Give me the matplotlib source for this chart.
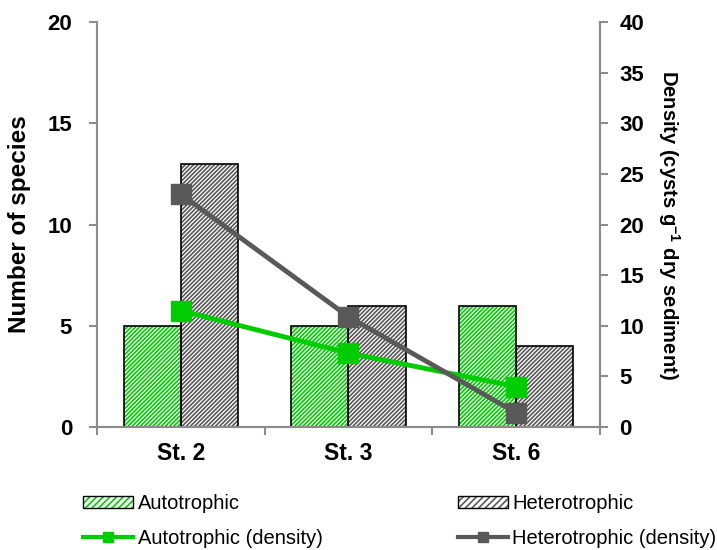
import numpy as np
import matplotlib.pyplot as plt
from matplotlib.patches import Patch
from matplotlib.lines import Line2D

stations = ["St. 2", "St. 3", "St. 6"]
auto_species = [5, 5, 6]
hetero_species = [13, 6, 4]
auto_density = [11.5, 7.3, 4.0]
hetero_density = [23.0, 10.9, 1.4]

green = "#00CC00"
gray = "#595959"
axis_gray = "#8C8C8C"
hatch = "////////"

plt.rcParams["font.family"] = ["Liberation Sans", "DejaVu Sans"]
plt.rcParams["mathtext.fontset"] = "custom"
plt.rcParams["mathtext.bf"] = "Liberation Sans:bold"
plt.rcParams["mathtext.rm"] = "Liberation Sans"
plt.rcParams["hatch.linewidth"] = 1.2

fig = plt.figure(figsize=(7.17, 5.5), dpi=100)
ax = fig.add_axes([0.1353, 0.2236, 0.7015, 0.736])
ax2 = ax.twinx()

x = np.arange(len(stations)) + 0.5
w = 0.34

# hatched fills, then black outlines on top
ax.bar(x - w / 2, auto_species, w, facecolor="white", edgecolor=green, hatch=hatch, linewidth=0)
ax.bar(x + w / 2, hetero_species, w, facecolor="white", edgecolor=gray, hatch=hatch, linewidth=0)
ax.bar(x - w / 2, auto_species, w, fill=False, edgecolor="black", linewidth=1.2)
ax.bar(x + w / 2, hetero_species, w, fill=False, edgecolor="black", linewidth=1.2)

ax2.plot(x, auto_density, color=green, lw=3.5, marker="s", markersize=14)
ax2.plot(x, hetero_density, color=gray, lw=3.5, marker="s", markersize=14)

ax.set_xlim(0, 3)
ax.set_ylim(0, 20)
ax2.set_ylim(0, 40)
ax.set_yticks(range(0, 21, 5))
ax2.set_yticks(range(0, 41, 5))

ax.set_xticks(x)
ax.set_xticklabels(stations, fontsize=16.5, fontweight="bold")
ax.set_xticks([0, 1, 2, 3], minor=True)
ax.tick_params(axis="x", which="major", length=0, pad=11)
ax.tick_params(axis="x", which="minor", length=6, color=axis_gray, width=1.5)
for a in (ax, ax2):
    a.spines["top"].set_visible(False)
    for s in ["left", "right", "bottom"]:
        a.spines[s].set_color(axis_gray)
        a.spines[s].set_linewidth(1.5)
ax.tick_params(axis="y", length=6, color=axis_gray, width=1.5, labelsize=16, pad=12)
ax2.tick_params(axis="y", length=6, color=axis_gray, width=1.5, labelsize=16, pad=8)
for lab in ax.get_yticklabels() + ax2.get_yticklabels():
    lab.set_fontweight("bold")

ax.set_ylabel("Number of species", fontsize=17.5, fontweight="bold", labelpad=12)
ax2.set_ylabel("Density (cysts g$\\mathbf{^{-1}}$ dry sediment)", fontsize=14.5, fontweight="bold",
               rotation=270, labelpad=27)

handles = [
    (Patch(facecolor="white", edgecolor=green, hatch="/////", linewidth=0),
     Patch(fill=False, edgecolor="black", linewidth=1.0)),
    Line2D([], [], color=green, lw=3, marker="s", markersize=7),
    (Patch(facecolor="white", edgecolor=gray, hatch="/////", linewidth=0),
     Patch(fill=False, edgecolor="black", linewidth=1.0)),
    Line2D([], [], color=gray, lw=3, marker="s", markersize=7),
]
labels = ["Autotrophic", "Autotrophic (density)", "Heterotrophic", "Heterotrophic (density)"]
fig.legend(handles, labels, loc="lower left", bbox_to_anchor=(83 / 717, 0.004), ncol=2, frameon=False,
           borderpad=0, borderaxespad=0, fontsize=14.5, handlelength=2.5, handleheight=0.55,
           handletextpad=0.22, columnspacing=6.7, labelspacing=0.78)

fig.savefig("out.png", dpi=100)
